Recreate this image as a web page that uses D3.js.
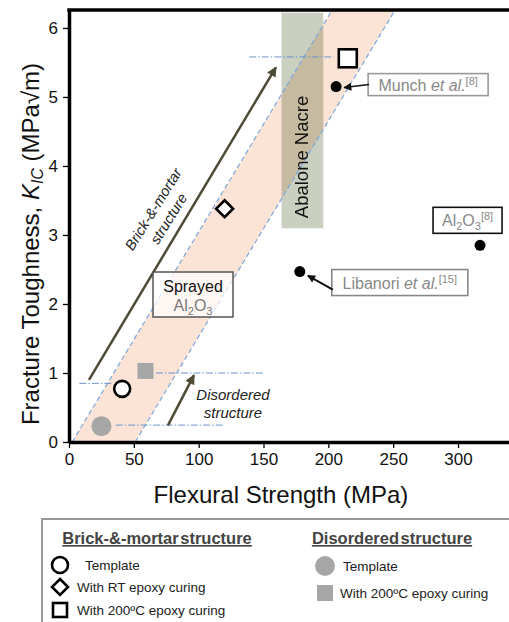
<!DOCTYPE html>
<html>
<head>
<meta charset="utf-8">
<script src="https://cdn.jsdelivr.net/npm/d3@7"></script>
<style>
body { margin: 0; background: #fff; }
text { font-family: "Liberation Sans", Arial, sans-serif; }
</style>
</head>
<body>
<div class="chart"></div>
<script>
// values
var xTicks = [0, 50, 100, 150, 200, 250, 300];
var yTicks = [0, 1, 2, 3, 4, 5, 6];

var brickLabels = ["Template", "With RT epoxy curing", "With 200ºC epoxy curing"];
var brickShapes = ["circle", "diamond", "square"];
var brickStrength = [41, 120, 215];
var brickToughness = [0.77, 3.38, 5.56];

var disLabels = ["Template", "With 200ºC epoxy curing"];
var disShapes = ["circle", "square"];
var disStrength = [25, 59];
var disToughness = [0.23, 1.03];

var litNames = ["Munch", "Libanori", "Al2O3"];
var litStrength = [206, 178, 317];
var litToughness = [5.15, 2.47, 2.85];

var bandLeft = [[2.5, 0], [203, 6.26]];
var bandRight = [[51, 0], [251.5, 6.26]];
var nacreStrength = [164, 196];
var nacreToughness = [3.1, 6.22];

// [from strength, to strength, toughness]
var guideLines = [[139, 204, 5.58], [67, 151, 1.0], [8, 34, 0.85], [36, 120, 0.245]];
var brickArrow = [[15.4, 0.9], [159.6, 5.43]];
var disArrow = [[76.3, 0.24], [96.4, 0.97]];

var width = 509, height = 622;
var svg = d3.select(".chart").append("svg")
    .attr("width", width)
    .attr("height", height);

var x = d3.scaleLinear().domain([0, 340]).range([69, 69 + 340 * 1.2967]);
var y = d3.scaleLinear().domain([0, 6.26]).range([442, 10]);

var defs = svg.append("defs");
defs.append("clipPath").attr("id", "plotClip")
    .append("rect").attr("x", x(0)).attr("y", y(6.26))
    .attr("width", width - x(0)).attr("height", y(0) - y(6.26));

function arrowMarker(id, color, w, h) {
    defs.append("marker")
        .attr("id", id)
        .attr("viewBox", "0 0 10 10")
        .attr("refX", 9).attr("refY", 5)
        .attr("markerWidth", w).attr("markerHeight", h)
        .attr("markerUnits", "userSpaceOnUse")
        .attr("orient", "auto")
        .append("path").attr("d", "M0,0 L10,5 L0,10 Z").attr("fill", color);
}
arrowMarker("olive", "#4d4a36", 12, 10);
arrowMarker("blk", "#111", 10, 8);

var plot = svg.append("g").attr("clip-path", "url(#plotClip)");

// peach band
var line = d3.line().x(function(d) { return x(d[0]); }).y(function(d) { return y(d[1]); });
plot.append("path")
    .attr("d", line([bandLeft[0], bandLeft[1], bandRight[1], bandRight[0]]) + "Z")
    .attr("fill", "#fbe4d6");

// abalone nacre range
plot.append("rect")
    .attr("x", x(nacreStrength[0]))
    .attr("y", y(nacreToughness[1]))
    .attr("width", x(nacreStrength[1]) - x(nacreStrength[0]))
    .attr("height", y(nacreToughness[0]) - y(nacreToughness[1]))
    .attr("fill", "#c9d0c0")
    .attr("stroke", "#dedede")
    .attr("stroke-width", 1.2)
    .attr("stroke-dasharray", "2,2")
    .style("mix-blend-mode", "multiply");

[bandLeft, bandRight].forEach(function(b) {
    plot.append("path")
        .attr("d", line(b))
        .attr("fill", "none")
        .attr("stroke", "#7ea6dc")
        .attr("stroke-width", 1.2)
        .attr("stroke-dasharray", "5,3");
});

guideLines.forEach(function(g) {
    plot.append("line")
        .attr("x1", x(g[0])).attr("x2", x(g[1]))
        .attr("y1", y(g[2])).attr("y2", y(g[2]))
        .attr("stroke", "#6b93cc")
        .attr("stroke-width", 1)
        .attr("stroke-dasharray", "7,2,1.5,2");
});

plot.append("text")
    .attr("transform", "translate(" + (x(180) + 6) + "," + 157 + ") rotate(-90)")
    .attr("text-anchor", "middle")
    .attr("font-size", 18.5)
    .attr("fill", "#111")
    .text("Abalone Nacre");

// trend arrows
[brickArrow, disArrow].forEach(function(a) {
    plot.append("line")
        .attr("x1", x(a[0][0])).attr("y1", y(a[0][1]))
        .attr("x2", x(a[1][0])).attr("y2", y(a[1][1]))
        .attr("stroke", "#4d4a36")
        .attr("stroke-width", 2.5)
        .attr("marker-end", "url(#olive)");
});

var bm = svg.append("text")
    .attr("transform", "translate(161,214) rotate(-58)")
    .attr("text-anchor", "middle")
    .attr("font-size", 14.5)
    .attr("font-style", "italic")
    .attr("fill", "#222");
bm.append("tspan").attr("x", 0).attr("y", -4).text("Brick-&-mortar");
bm.append("tspan").attr("x", 0).attr("y", 14).text("structure");

var ds = svg.append("text")
    .attr("text-anchor", "middle")
    .attr("font-size", 15)
    .attr("font-style", "italic")
    .attr("fill", "#222");
ds.append("tspan").attr("x", 233).attr("y", 400).text("Disordered");
ds.append("tspan").attr("x", 233).attr("y", 418).text("structure");

// Sprayed Al2O3 box
svg.append("rect")
    .attr("x", 153).attr("y", 272).attr("width", 80).attr("height", 45)
    .attr("fill", "#fff").attr("fill-opacity", 0.7)
    .attr("stroke", "#555").attr("stroke-width", 1.5);
svg.append("text").attr("x", 193).attr("y", 292)
    .attr("text-anchor", "middle").attr("font-size", 16).attr("fill", "#111")
    .text("Sprayed");
var al = svg.append("text").attr("x", 193).attr("y", 311)
    .attr("text-anchor", "middle").attr("font-size", 16).attr("fill", "#777");
al.append("tspan").text("Al");
al.append("tspan").attr("font-size", 11).attr("dy", 4).text("2");
al.append("tspan").attr("dy", -4).text("O");
al.append("tspan").attr("font-size", 11).attr("dy", 4).text("3");

// symbols
function symbol(g, shape, cx, cy, kind, s) {
    var filled = kind === "gray";
    var fill = filled ? "#a6a6a6" : "#fff";
    var stroke = filled ? "none" : "#000";
    var node;
    if (shape === "circle") {
        node = g.append("circle").attr("cx", cx).attr("cy", cy).attr("r", s);
    } else if (shape === "square") {
        node = g.append("rect").attr("x", cx - s).attr("y", cy - s)
            .attr("width", 2 * s).attr("height", 2 * s);
    } else {
        node = g.append("path").attr("d", "M" + cx + "," + (cy - s) + " L" + (cx + s) + "," + cy +
            " L" + cx + "," + (cy + s) + " L" + (cx - s) + "," + cy + " Z");
    }
    node.attr("fill", fill).attr("stroke", stroke).attr("stroke-width", filled ? 0 : 2.6);
}

var marks = svg.append("g");
var brickSize = [8, 8.5, 9];
brickShapes.forEach(function(sh, i) {
    symbol(marks, sh, x(brickStrength[i]), y(brickToughness[i]), "open", brickSize[i]);
});
var disSize = [10, 8];
disShapes.forEach(function(sh, i) {
    symbol(marks, sh, x(disStrength[i]), y(disToughness[i]), "gray", disSize[i]);
});

// literature points
litNames.forEach(function(n, i) {
    marks.append("circle")
        .attr("cx", x(litStrength[i])).attr("cy", y(litToughness[i]))
        .attr("r", 5.5).attr("fill", "#000");
});

function refLabel(px, py, w, h, border, parts) {
    svg.append("rect").attr("x", px).attr("y", py).attr("width", w).attr("height", h)
        .attr("fill", "#fff").attr("stroke", border).attr("stroke-width", 1.6);
    var t = svg.append("text").attr("x", px + w / 2).attr("y", py + h / 2 + 6)
        .attr("text-anchor", "middle").attr("font-size", 16).attr("fill", "#888");
    parts.forEach(function(p) {
        var ts = t.append("tspan").text(p[0]);
        if (p[1] === "i") ts.attr("font-style", "italic");
        if (p[1] === "sup") ts.attr("font-size", 11).attr("dy", -6);
        if (p[1] === "sub") ts.attr("font-size", 11).attr("dy", 4);
        if (p[2]) ts.attr("dy", p[2]);
    });
}

// Munch
var mx = x(litStrength[0]), my = y(litToughness[0]);
refLabel(mx + 32, my - 13, 120, 22, "#999", [["Munch "], ["et al.", "i"], ["[8]", "sup"]]);
svg.append("line").attr("x1", mx + 33).attr("y1", my - 2).attr("x2", mx + 8).attr("y2", my + 1)
    .attr("stroke", "#111").attr("stroke-width", 1.5).attr("marker-end", "url(#blk)");

// Libanori
var lx = x(litStrength[1]), ly = y(litToughness[1]);
refLabel(lx + 32, ly - 2, 136, 26, "#888", [["Libanori "], ["et al.", "i"], ["[15]", "sup"]]);
svg.append("line").attr("x1", lx + 33).attr("y1", ly + 18).attr("x2", lx + 8).attr("y2", ly + 4)
    .attr("stroke", "#111").attr("stroke-width", 2).attr("marker-end", "url(#blk)");

// Al2O3
var ax = x(litStrength[2]), ay = y(litToughness[2]);
refLabel(ax - 47, ay - 38, 69, 26, "#111", [["Al"], ["2", "sub"], ["O", null, -4], ["3", "sub"], ["[8]", "sup", -10]]);

// axes
var yAxis = svg.append("g")
    .attr("transform", "translate(" + x(0) + ",0)")
    .call(d3.axisLeft(y).tickValues(yTicks).tickFormat(d3.format("d"))
        .tickSize(6).tickSizeOuter(0).tickPadding(5));
var xAxis = svg.append("g")
    .attr("transform", "translate(0," + y(0) + ")")
    .call(d3.axisBottom(x).tickValues(xTicks).tickFormat(d3.format("d"))
        .tickSize(6).tickSizeOuter(0).tickPadding(5));
[xAxis, yAxis].forEach(function(a) {
    a.select(".domain").attr("stroke", "#000").attr("stroke-width", 3.5);
    a.selectAll(".tick line").attr("stroke", "#000").attr("stroke-width", 1.3);
    a.selectAll(".tick text").attr("font-size", 17).attr("fill", "#111")
        .attr("font-family", "Liberation Sans, Arial, sans-serif");
});
svg.append("line")
    .attr("x1", x(0) - 1.75).attr("x2", width)
    .attr("y1", y(6.26)).attr("y2", y(6.26))
    .attr("stroke", "#000").attr("stroke-width", 3.5);

svg.append("text")
    .attr("x", 281).attr("y", 503)
    .attr("text-anchor", "middle").attr("font-size", 24).attr("fill", "#111")
    .text("Flexural Strength (MPa)");

var yt = svg.append("text")
    .attr("transform", "translate(39,244) rotate(-90)")
    .attr("text-anchor", "middle").attr("font-size", 24).attr("fill", "#111");
yt.append("tspan").text("Fracture Toughness, ");
yt.append("tspan").attr("font-style", "italic").text("K");
yt.append("tspan").attr("font-style", "italic").attr("font-size", 16).attr("dy", 4).text("IC");
yt.append("tspan").attr("dy", -4).text(" (MPa√m)");

// legend
var lg = svg.append("g");
lg.append("rect").attr("x", 42).attr("y", 519).attr("width", 500).attr("height", 130)
    .attr("fill", "none").attr("stroke", "#999").attr("stroke-width", 2);
[["Brick-&-mortar structure", 157], ["Disordered structure", 392]].forEach(function(h) {
    lg.append("text").attr("x", h[1]).attr("y", 544)
        .attr("text-anchor", "middle").attr("font-size", 16.5).attr("font-weight", "bold")
        .attr("fill", "#444").attr("text-decoration", "underline").attr("word-spacing", -3)
        .text(h[0]);
});
var brickRows = [565, 587, 610], brickTextX = [85, 77, 77], brickLegSize = [8, 8, 7];
brickLabels.forEach(function(lab, i) {
    symbol(lg, brickShapes[i], 60, brickRows[i], "open", brickLegSize[i]);
    lg.append("text").attr("x", brickTextX[i]).attr("y", brickRows[i] + 5)
        .attr("font-size", 13.5).attr("fill", "#222").text(lab);
});
var disRows = [566, 593], disTextX = [343, 340], disLegSize = [10, 8];
disLabels.forEach(function(lab, i) {
    symbol(lg, disShapes[i], 325, disRows[i], "gray", disLegSize[i]);
    lg.append("text").attr("x", disTextX[i]).attr("y", disRows[i] + 5)
        .attr("font-size", 13.5).attr("fill", "#222").text(lab);
});
</script>
</body>
</html>
